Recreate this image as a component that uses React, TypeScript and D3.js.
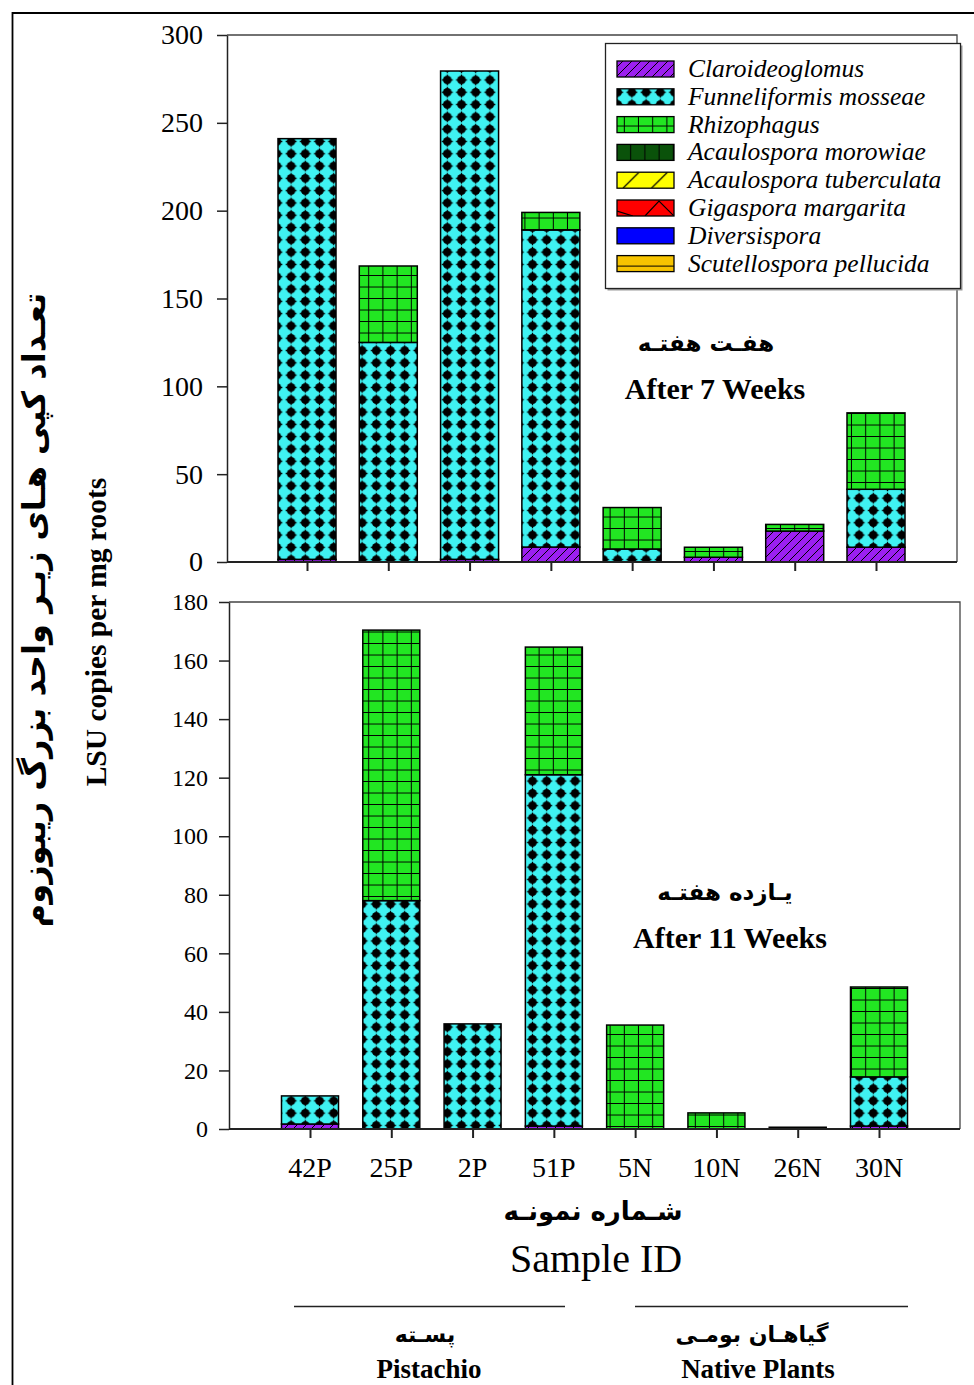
import React, { useEffect, useRef } from 'react';
import * as d3 from 'd3';

const samples = ['42P', '25P', '2P', '51P', '5N', '10N', '26N', '30N'];

const species = [
  'Claroideoglomus',
  'Funneliformis mosseae',
  'Rhizophagus',
  'Acaulospora morowiae',
  'Acaulospora tuberculata',
  'Gigaspora margarita',
  'Diversispora',
  'Scutellospora pellucida',
];

// after 7 weeks
const claro7 = [1.5, 0, 1.5, 8.5, 0, 2.7, 17.6, 8.4];
const funnel7 = [239.5, 125, 278, 180.5, 7.4, 0, 0, 33];
const rhizo7 = [0, 43.5, 0, 10, 23.6, 5.7, 3.8, 43.5];

// after 11 weeks
const claro11 = [1.7, 0, 0, 1, 0, 0, 0, 1];
const funnel11 = [9.6, 78, 35.9, 120, 0, 0, 0, 16.8];
const rhizo11 = [0, 92.4, 0, 43.6, 35.5, 5.5, 0.6, 30.7];

// the other species were not found
const none = [0, 0, 0, 0, 0, 0, 0, 0];

const ticks7 = [0, 50, 100, 150, 200, 250, 300];
const ticks11 = [0, 20, 40, 60, 80, 100, 120, 140, 160, 180];

const patternIds = ['pClaro', 'pFun', 'pRhi', 'pMor', 'pTub', 'pGig', 'pDiv', 'pScu'];

const serif = '"Liberation Serif", "Times New Roman", serif';
const persian = '"DejaVu Sans", sans-serif';

const toRows = (series: number[][]) =>
  samples.map((s, i) => {
    const row: any = { sample: s };
    species.forEach((sp, k) => (row[sp] = series[k][i]));
    return row;
  });

const App = () => {
  const ref = useRef<SVGSVGElement>(null);

  useEffect(() => {
    const svg = d3.select(ref.current).attr('width', 974).attr('height', 1385);
    svg.selectAll('*').remove();

    const legendY = (k: number) => 69 + k * 27.8;

    // patterns
    const defs = svg.append('defs');
    const pat = (id: string, w: number, h: number, fill: string, px = 0, py = 0) => {
      const p = defs.append('pattern').attr('id', id).attr('patternUnits', 'userSpaceOnUse')
        .attr('x', px).attr('y', py).attr('width', w).attr('height', h);
      p.append('rect').attr('width', w).attr('height', h).attr('fill', fill);
      return p;
    };
    const line = (p: any, d: string, w: number) =>
      p.append('path').attr('d', d).attr('fill', 'none').attr('stroke', '#000').attr('stroke-width', w);

    line(pat('pClaro', 9, 9, '#9c1ff0'), 'M0,9 L9,0 M-2,2 L2,-2 M7,11 L11,7', 1);
    const pf = pat('pFun', 14.2, 12.3, '#3ff2f2');
    pf.append('circle').attr('cx', 7.1).attr('cy', 6.15).attr('r', 4.3).attr('fill', '#000');
    line(pf, 'M7.1,0.6 L7.1,11.7 M1.6,6.15 L12.6,6.15', 1.3);
    line(pat('pRhi', 14.2, 11.5, '#22e622'), 'M14.2,0 L14.2,11.5 M0,11.5 L14.2,11.5', 2);
    line(pat('pMor', 14.2, 20, '#0a520a', 617, 0), 'M14.2,0 L14.2,20', 2);
    line(pat('pTub', 28.5, 16, '#ffff00', 617, legendY(4) - 8), 'M6,16 L22,0', 1.2);
    line(pat('pGig', 57, 16, '#ff0000', 617, legendY(5) - 8), 'M0,11 L16,16 M28,16 L42,1 L57,16', 1.2);
    pat('pDiv', 10, 10, '#0000ff');
    line(pat('pScu', 57, 16, '#f7c400', 617, legendY(7) - 8), 'M0,10.5 L57,10.5', 1.2);

    // outer frame
    svg.append('path').attr('d', 'M974,13 L12.5,13 L12.5,1385')
      .attr('fill', 'none').attr('stroke', '#000').attr('stroke-width', 1.8);

    const drawPanel = (series: number[][], ymax: number, ticks: number[],
      left: number, right: number, top: number, bottom: number,
      c0: number, c1: number, barW: number, fontSize: number, tickEnd: number) => {
      const x = d3.scalePoint().domain(samples).range([c0, c1]);
      const y = d3.scaleLinear().domain([0, ymax]).range([bottom, top]);
      const g = svg.append('g');

      const stacked = d3.stack().keys(species)(toRows(series) as any);
      stacked.forEach((layer, k) => {
        g.append('g').selectAll('rect')
          .data(layer.filter(d => d[1] - d[0] > 0))
          .enter()
          .append('rect')
          .attr('x', d => (x((d.data as any).sample) as number) - barW / 2)
          .attr('y', d => y(d[1]))
          .attr('width', barW)
          .attr('height', d => y(d[0]) - y(d[1]))
          .attr('fill', `url(#${patternIds[k]})`)
          .attr('stroke', '#000')
          .attr('stroke-width', 1.5);
      });

      // plot frame
      g.append('path')
        .attr('d', `M${left},${top} L${right},${top} L${right},${bottom}`)
        .attr('fill', 'none').attr('stroke', '#444').attr('stroke-width', 1.3);

      const ya = g.append('g').attr('transform', `translate(${left},0)`)
        .call(d3.axisLeft(y).tickValues(ticks).tickSize(10).tickSizeOuter(0).tickPadding(tickEnd));
      ya.select('.domain').attr('stroke', '#222').attr('stroke-width', 1.5);
      ya.selectAll('.tick line').attr('stroke', '#222').attr('stroke-width', 1.5);
      ya.selectAll('.tick text').attr('font-family', serif).attr('font-size', fontSize).attr('fill', '#000');

      const xa = g.append('g').attr('transform', `translate(0,${bottom})`)
        .call(d3.axisBottom(x).tickSize(9).tickSizeOuter(0).tickFormat(() => ''));
      xa.select('.domain').attr('d', `M${left},0 L${right},0`).attr('stroke', '#222').attr('stroke-width', 1.8);
      xa.selectAll('.tick line').attr('stroke', '#222').attr('stroke-width', 2);
      return x;
    };

    drawPanel([claro7, funnel7, rhizo7, none, none, none, none, none], 300, ticks7,
      227, 957, 35, 562, 307, 876, 58, 28, 14);
    const x11 = drawPanel([claro11, funnel11, rhizo11, none, none, none, none, none], 180, ticks11,
      229, 960, 602, 1129, 310, 879, 57, 24, 11);

    // sample labels
    svg.append('g').selectAll('text').data(samples).enter().append('text')
      .attr('x', d => x11(d) as number).attr('y', 1177)
      .attr('text-anchor', 'middle').attr('font-family', serif).attr('font-size', 28)
      .text(d => d);

    // legend
    const lg = svg.append('g');
    lg.append('rect').attr('x', 607.5).attr('y', 45.5).attr('width', 355).attr('height', 245)
      .attr('fill', '#999');
    lg.append('rect').attr('x', 605.5).attr('y', 43.5).attr('width', 355).attr('height', 245)
      .attr('fill', '#fff').attr('stroke', '#222').attr('stroke-width', 1.3);
    species.forEach((sp, k) => {
      const cy = legendY(k);
      lg.append('rect').attr('x', 617).attr('y', cy - 8).attr('width', 57).attr('height', 16)
        .attr('fill', `url(#${patternIds[k]})`).attr('stroke', '#000').attr('stroke-width', 1.3);
      lg.append('text').attr('x', 688).attr('y', cy + 8)
        .attr('font-family', serif).attr('font-style', 'italic').attr('font-size', 25.5)
        .text(sp);
    });

    const txt = (s: string, x: number, y: number, size: number, font: string, bold = true) =>
      svg.append('text').attr('x', x).attr('y', y).attr('text-anchor', 'middle')
        .attr('font-family', font).attr('font-size', size)
        .attr('font-weight', bold ? 'bold' : 'normal').text(s);

    txt('هفـت هفتـه', 706, 351, 23, persian);
    txt('After 7 Weeks', 715, 399, 30, serif);
    txt('یـازده هفتـه', 725, 900, 23, persian);
    txt('After 11 Weeks', 730, 948, 30, serif);

    txt('شـماره نمونـه', 593, 1220, 26, persian);
    txt('Sample ID', 596, 1272, 40, serif, false);

    svg.append('path').attr('d', 'M294,1306.5 L565,1306.5 M635,1306.5 L908,1306.5')
      .attr('stroke', '#222').attr('stroke-width', 1.3);
    txt('پسـته', 425, 1342, 22, persian);
    txt('Pistachio', 429, 1378, 27, serif);
    txt('گیاهـان بومـی', 752, 1342, 22, persian);
    txt('Native Plants', 758, 1378, 27, serif);

    // axis titles
    txt('تعـداد کپی هـای زیـر واحد بزرگ ریبوزوم', 0, 0, 32, persian)
      .attr('x', null).attr('y', null)
      .attr('transform', 'translate(45,610) rotate(-90)');
    txt('LSU copies per mg roots', 0, 0, 29.5, serif)
      .attr('x', null).attr('y', null)
      .attr('transform', 'translate(106,632) rotate(-90)');
  }, []);

  return <svg ref={ref} style={{ position: 'absolute', left: 0, top: 0 }}></svg>;
};

export default App;
